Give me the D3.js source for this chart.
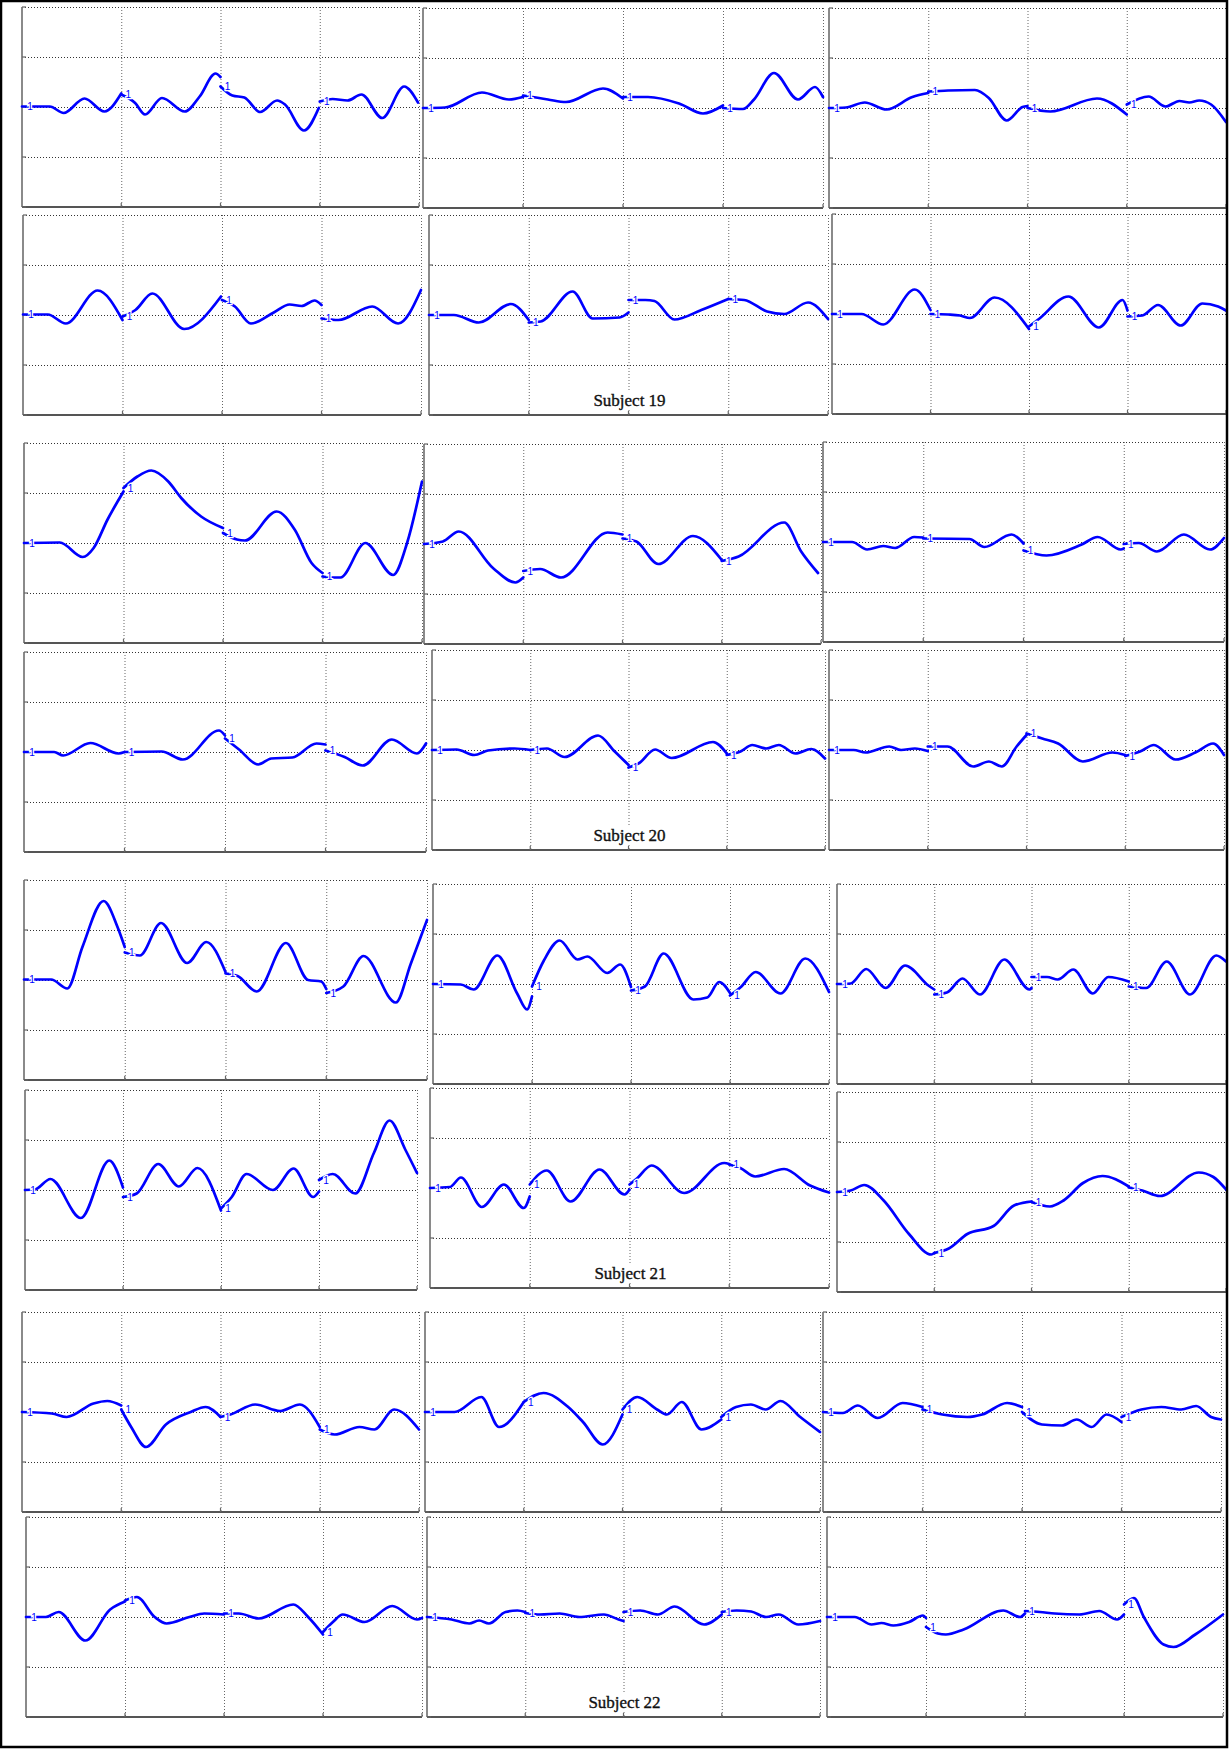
<!DOCTYPE html>
<html>
<head>
<meta charset="utf-8">
<script src="https://cdn.jsdelivr.net/npm/d3@7"></script>
<style>
  html, body { margin: 0; padding: 0; background: #fff; }
  svg { display: block; }
</style>
</head>
<body>
<svg id="chart" width="1229" height="1749"></svg>
<script>
// Each trace is split into four runs; each run is a list of [x, y] points,
// x in column units (0..4), y in grid units (-2..2).

// ---- Subject 19 ----
const s19_1 = [
  [[0,0.01],[0.28,0.01],[0.42,-0.12],[0.63,0.17],[0.83,-0.09],[1.0,0.27]],
  [[1.0,0.25],[1.14,0.08],[1.24,-0.15],[1.41,0.18],[1.64,-0.09],[1.79,0.21],[1.95,0.67],[2.0,0.6]],
  [[2.0,0.41],[2.12,0.23],[2.24,0.19],[2.40,-0.10],[2.57,0.13],[2.65,0.05],[2.84,-0.47],[2.99,-0.02]],
  [[3.0,0.11],[3.13,0.16],[3.28,0.13],[3.42,0.25],[3.63,-0.22],[3.85,0.41],[3.99,0.09]]
];
const s19_2 = [
  [[0,0],[0.22,0.01],[0.59,0.31],[0.86,0.17],[1.0,0.22]],
  [[1.0,0.25],[1.25,0.17],[1.43,0.12],[1.80,0.39],[2.0,0.19]],
  [[2.0,0.22],[2.25,0.22],[2.56,0.09],[2.8,-0.11],[3.0,0.05]],
  [[3.0,0],[3.2,-0.02],[3.31,0.17],[3.51,0.70],[3.75,0.17],[3.92,0.42],[4.0,0.22]]
];
const s19_3 = [
  [[0,0],[0.17,0.01],[0.36,0.11],[0.58,-0.03],[0.84,0.22],[1.0,0.30]],
  [[1.0,0.33],[1.2,0.35],[1.47,0.36],[1.61,0.2],[1.79,-0.25],[1.95,0.02],[2.0,0.04]],
  [[2.0,0],[2.23,-0.07],[2.70,0.19],[3.0,-0.13]],
  [[3.0,0.07],[3.22,0.23],[3.39,0.03],[3.53,0.14],[3.63,0.11],[3.73,0.15],[3.85,0.07],[4.0,-0.28]]
];
const s19_4 = [
  [[0,0.01],[0.25,0.01],[0.43,-0.17],[0.75,0.49],[1.0,-0.10]],
  [[1.0,-0.03],[1.13,0.1],[1.30,0.43],[1.62,-0.28],[1.99,0.37]],
  [[2.0,0.3],[2.13,0.17],[2.29,-0.17],[2.52,0.05],[2.68,0.21],[2.80,0.18],[2.93,0.29],[3.0,0.2]],
  [[3.0,-0.07],[3.17,-0.10],[3.51,0.17],[3.77,-0.17],[4.0,0.5]]
];
const s19_5 = [
  [[0,0],[0.25,0],[0.5,-0.15],[0.82,0.22],[1.0,-0.1]],
  [[1.0,-0.15],[1.12,-0.13],[1.44,0.47],[1.64,-0.07],[1.91,-0.05],[2.0,0.05]],
  [[2.0,0.3],[2.17,0.3],[2.26,0.28],[2.46,-0.09],[2.73,0.1],[3.0,0.32]],
  [[3.0,0.32],[3.16,0.3],[3.39,0.07],[3.56,0.02],[3.80,0.25],[4.0,-0.08]]
];
const s19_6 = [
  [[0,0],[0.3,0],[0.52,-0.21],[0.84,0.49],[1.0,0.08]],
  [[1.0,0.0],[1.18,-0.01],[1.3,-0.03],[1.4,-0.08],[1.65,0.33],[2.0,-0.3]],
  [[2.0,-0.25],[2.1,-0.1],[2.4,0.35],[2.71,-0.27],[2.95,0.28],[3.0,0.07]],
  [[3.0,-0.05],[3.15,-0.03],[3.31,0.18],[3.54,-0.23],[3.76,0.21],[3.92,0.15],[4.0,0.07]]
];

// ---- Subject 20 ----
const s20_1 = [
  [[0,0],[0.36,0.01],[0.59,-0.28],[0.7,-0.1],[0.84,0.47],[1.0,1.03]],
  [[1.0,1.1],[1.14,1.33],[1.28,1.45],[1.45,1.23],[1.58,0.9],[1.78,0.53],[2.0,0.3]],
  [[2.0,0.2],[2.14,0.07],[2.22,0.05],[2.54,0.63],[2.72,0.27],[2.89,-0.4],[3.0,-0.6]],
  [[3.0,-0.67],[3.1,-0.69],[3.18,-0.69],[3.43,0.0],[3.71,-0.64],[3.85,0.0],[4.0,1.23]]
];
const s20_2 = [
  [[0,0],[0.19,0.05],[0.35,0.25],[0.70,-0.49],[0.92,-0.77],[1.0,-0.67]],
  [[1.0,-0.54],[1.17,-0.5],[1.38,-0.67],[1.85,0.23],[2.0,0.19]],
  [[2.0,0.11],[2.14,0.05],[2.36,-0.4],[2.71,0.16],[3.0,-0.32]],
  [[3.0,-0.34],[3.17,-0.25],[3.63,0.43],[3.8,-0.15],[3.97,-0.58]]
];
const s20_3 = [
  [[0,0],[0.29,0],[0.44,-0.15],[0.6,-0.08],[0.72,-0.12],[0.91,0.1],[1.0,0.09]],
  [[1.0,0.07],[1.46,0.06],[1.61,-0.1],[1.88,0.15],[2.0,-0.03]],
  [[2.0,-0.17],[2.23,-0.27],[2.58,-0.05],[2.74,0.1],[2.97,-0.15],[3.0,-0.13]],
  [[3.0,-0.04],[3.15,-0.02],[3.33,-0.19],[3.6,0.15],[3.86,-0.15],[4.0,0.08]]
];
const s20_4 = [
  [[0,0],[0.3,0],[0.39,-0.07],[0.66,0.18],[0.94,-0.03],[1.0,0]],
  [[1.0,0],[1.37,0.01],[1.58,-0.15],[1.94,0.43],[2.0,0.33]],
  [[2.0,0.27],[2.14,0.05],[2.33,-0.25],[2.46,-0.13],[2.67,-0.11],[2.91,0.17],[3.0,0.15]],
  [[3.0,0.03],[3.19,-0.1],[3.37,-0.27],[3.66,0.25],[3.91,-0.03],[4.0,0.17]]
];
const s20_5 = [
  [[0,0],[0.25,0.01],[0.43,-0.1],[0.57,-0.01],[0.84,0.03],[1.0,0]],
  [[1.0,0.0],[1.17,0.03],[1.35,-0.14],[1.69,0.29],[1.86,-0.03],[2.0,-0.3]],
  [[2.0,-0.35],[2.11,-0.26],[2.27,0.01],[2.44,-0.16],[2.86,0.16],[3.0,-0.07]],
  [[3.0,-0.1],[3.14,-0.03],[3.26,0.1],[3.4,0.03],[3.53,0.1],[3.7,-0.07],[3.86,0.02],[4.0,-0.17]]
];
const s20_6 = [
  [[0,0],[0.25,0],[0.37,-0.05],[0.61,0.07],[0.73,0],[0.87,0.03],[1.0,-0.02]],
  [[1.0,0.07],[1.2,0.07],[1.46,-0.33],[1.62,-0.23],[1.75,-0.33],[1.9,0.07],[2.0,0.3]],
  [[2.0,0.33],[2.16,0.23],[2.32,0.13],[2.57,-0.23],[2.87,-0.05],[3.0,-0.1]],
  [[3.0,-0.12],[3.15,-0.03],[3.29,0.1],[3.51,-0.19],[3.71,-0.05],[3.89,0.13],[4.0,-0.1]]
];

// ---- Subject 21 ----
const s21_1 = [
  [[0,0.01],[0.27,0.01],[0.43,-0.17],[0.58,0.66],[0.79,1.58],[0.93,1.05],[1.0,0.66]],
  [[1.0,0.55],[1.15,0.49],[1.36,1.14],[1.62,0.34],[1.81,0.76],[2.0,0.16]],
  [[2.0,0.13],[2.12,0.08],[2.31,-0.23],[2.6,0.74],[2.82,0],[2.95,-0.03],[3.0,-0.18]],
  [[3.0,-0.26],[3.17,-0.13],[3.37,0.48],[3.69,-0.45],[3.84,0.33],[4.0,1.2]]
];
const s21_2 = [
  [[0,0],[0.28,-0.01],[0.41,-0.11],[0.65,0.57],[0.85,-0.19],[0.95,-0.51],[1.0,-0.25]],
  [[1.0,-0.05],[1.12,0.47],[1.28,0.87],[1.46,0.49],[1.56,0.55],[1.76,0.22],[1.89,0.39],[2.0,-0.06]],
  [[2.0,-0.13],[2.14,-0.05],[2.33,0.61],[2.63,-0.31],[2.77,-0.27],[2.89,0.04],[3.0,-0.18]],
  [[3.0,-0.23],[3.11,-0.06],[3.26,0.24],[3.51,-0.19],[3.76,0.51],[4.0,-0.16]]
];
const s21_3 = [
  [[0,0],[0.14,0.01],[0.3,0.3],[0.5,-0.08],[0.7,0.37],[0.94,-0.03],[1.0,-0.11]],
  [[1.0,-0.21],[1.13,-0.17],[1.29,0.11],[1.47,-0.21],[1.72,0.49],[1.98,-0.11],[2.0,-0.08]],
  [[2.0,0.14],[2.16,0.14],[2.27,0.09],[2.43,0.29],[2.63,-0.19],[2.79,0.14],[3.0,0.05]],
  [[3.0,-0.05],[3.18,-0.08],[3.39,0.45],[3.63,-0.21],[3.9,0.57],[4.0,0.45]]
];
const s21_4 = [
  [[0,0],[0.1,0.01],[0.26,0.22],[0.57,-0.56],[0.86,0.59],[1.0,0.05]],
  [[1.0,-0.14],[1.14,-0.07],[1.36,0.52],[1.57,0.07],[1.76,0.44],[2.0,-0.41]],
  [[2.0,-0.37],[2.11,-0.14],[2.26,0.32],[2.53,0],[2.74,0.43],[2.94,-0.14],[3.0,-0.03]],
  [[3.0,0.2],[3.14,0.32],[3.37,-0.07],[3.56,0.74],[3.72,1.39],[3.88,0.81],[4.0,0.34]]
];
const s21_5 = [
  [[0,0],[0.2,0.02],[0.31,0.21],[0.52,-0.38],[0.74,0.07],[0.94,-0.4],[1.0,-0.17]],
  [[1.0,0.07],[1.17,0.35],[1.41,-0.27],[1.70,0.37],[1.95,-0.13],[2.0,-0.03]],
  [[2.0,0.07],[2.08,0.2],[2.22,0.45],[2.55,-0.1],[2.95,0.5],[3.0,0.48]],
  [[3.0,0.47],[3.11,0.4],[3.26,0.23],[3.55,0.38],[3.81,0.05],[4.0,-0.09]]
];
const s21_6 = [
  [[0,0],[0.14,0.03],[0.28,0.14],[0.48,-0.17],[0.74,-0.84],[0.97,-1.25],[1.0,-1.22]],
  [[1.0,-1.22],[1.15,-1.13],[1.34,-0.84],[1.61,-0.68],[1.82,-0.27],[2.0,-0.19]],
  [[2.0,-0.2],[2.19,-0.29],[2.33,-0.17],[2.53,0.18],[2.73,0.32],[3.0,0.11]],
  [[3.0,0.09],[3.14,0.03],[3.32,-0.08],[3.72,0.39],[3.87,0.3],[4.0,0.05]]
];

// ---- Subject 22 ----
const s22_1 = [
  [[0,0],[0.3,-0.03],[0.45,-0.1],[0.72,0.17],[0.86,0.22],[1.0,0.13]],
  [[1.0,0.05],[1.1,-0.3],[1.25,-0.7],[1.45,-0.25],[1.7,0.0],[1.85,0.1],[2.0,-0.1]],
  [[2.0,-0.1],[2.1,-0.05],[2.35,0.15],[2.6,0.02],[2.8,0.15],[3.0,-0.3]],
  [[3.0,-0.35],[3.15,-0.45],[3.4,-0.3],[3.55,-0.35],[3.75,0.05],[4.0,-0.35]]
];
const s22_2 = [
  [[0,0],[0.3,0.0],[0.57,0.3],[0.75,-0.3],[1.0,0.2]],
  [[1.0,0.2],[1.2,0.38],[1.45,0.1],[1.6,-0.2],[1.8,-0.65],[2.0,-0.05]],
  [[2.0,0.05],[2.15,0.3],[2.35,0.05],[2.45,-0.05],[2.6,0.2],[2.8,-0.35],[3.0,-0.15]],
  [[3.0,-0.1],[3.15,0.1],[3.3,0.15],[3.45,0.05],[3.6,0.22],[3.8,-0.1],[4.0,-0.4]]
];
const s22_3 = [
  [[0,0],[0.2,-0.02],[0.35,0.13],[0.55,-0.12],[0.8,0.18],[1.0,0.1]],
  [[1.0,0.05],[1.2,-0.05],[1.45,-0.1],[1.6,-0.05],[1.85,0.18],[2.0,0.1]],
  [[2.0,0.0],[2.2,-0.25],[2.4,-0.27],[2.55,-0.15],[2.7,-0.3],[2.85,-0.05],[3.0,-0.2]],
  [[3.0,-0.1],[3.2,0.05],[3.4,0.1],[3.6,0.05],[3.75,0.12],[3.9,-0.1],[4.0,-0.15]]
];
const s22_4 = [
  [[0,0],[0.2,0.0],[0.33,0.1],[0.6,-0.47],[0.85,0.15],[1.0,0.31]],
  [[1.0,0.33],[1.12,0.4],[1.3,0.0],[1.42,-0.13],[1.65,0.0],[1.8,0.07],[2.0,0.05]],
  [[2.0,0.07],[2.15,0.07],[2.35,-0.03],[2.7,0.25],[2.85,0.0],[3.0,-0.35]],
  [[3.0,-0.3],[3.1,-0.1],[3.2,0.05],[3.42,-0.1],[3.7,0.22],[3.95,-0.05],[4.0,-0.02]]
];
const s22_5 = [
  [[0,0],[0.25,-0.05],[0.43,-0.13],[0.53,-0.07],[0.63,-0.13],[0.8,0.1],[0.92,0.13],[1.0,0.1]],
  [[1.0,0.08],[1.15,0.05],[1.35,0.07],[1.55,0.0],[1.8,0.05],[1.95,-0.05],[2.0,-0.08]],
  [[2.0,0.1],[2.17,0.13],[2.35,0.05],[2.52,0.21],[2.82,-0.15],[3.0,0.05]],
  [[3.0,0.1],[3.15,0.13],[3.3,0.11],[3.45,0.0],[3.58,0.05],[3.78,-0.15],[4.0,-0.08]]
];
const s22_6 = [
  [[0,0],[0.28,0.0],[0.45,-0.15],[0.55,-0.12],[0.67,-0.17],[0.83,-0.1],[0.97,0.03],[1.0,-0.02]],
  [[1.0,-0.2],[1.12,-0.33],[1.2,-0.35],[1.38,-0.25],[1.78,0.13],[1.95,0.0],[2.0,0.07]],
  [[2.0,0.12],[2.15,0.1],[2.3,0.07],[2.55,0.05],[2.75,0.12],[2.93,-0.05],[3.0,0.05]],
  [[3.0,0.25],[3.1,0.38],[3.2,0.0],[3.4,-0.55],[3.5,-0.6],[3.72,-0.35],[4.0,0.05]]
];

const subjectNames = ["Subject 19", "Subject 20", "Subject 21", "Subject 22"];
const subjectTraces = [
  [s19_1, s19_2, s19_3, s19_4, s19_5, s19_6],
  [s20_1, s20_2, s20_3, s20_4, s20_5, s20_6],
  [s21_1, s21_2, s21_3, s21_4, s21_5, s21_6],
  [s22_1, s22_2, s22_3, s22_4, s22_5, s22_6]
];

const xGrid = [1, 2, 3, 4];
const yGrid = [-1, 0, 1, 2];
const yTicks = [-2, -1, 0, 1, 2];

// Panel frames: [left, right, zero line y] for each of the eight rows of three.
const frames = [
  [[22,419,107],[423,823,108],[829,1226,108]],
  [[23,421,315],[429,828,315],[832,1226,314]],
  [[24,422,543],[424,821,544],[823,1224,542]],
  [[24,426,752],[432,825,750],[829,1224,750]],
  [[24,427,980],[433,829,984],[837,1226,984]],
  [[25,417,1190],[430,829,1188],[837,1226,1192]],
  [[22,419,1412],[425,820,1412],[823,1221,1412]],
  [[26,422,1617],[427,820,1617],[827,1223,1617]]
];
const HALF = 100;

const svg = d3.select("#chart");
svg.append("rect").attr("width", 1229).attr("height", 1749).attr("fill", "#fff");

const line = d3.line().curve(d3.curveMonotoneX);

function drawPanel(frame, runs) {
  const [x0, x1, zero] = frame;
  const x = d3.scaleLinear().domain([0, 4]).range([x0, x1]);
  const y = d3.scaleLinear().domain([-2, 2]).range([zero + HALF, zero - HALF]);
  const g = svg.append("g");

  // dotted grid
  g.selectAll(".hg").data(yGrid).join("line")
    .attr("x1", x(0)).attr("x2", x(4))
    .attr("y1", d => y(d) + 0.5).attr("y2", d => y(d) + 0.5)
    .attr("stroke", "#333").attr("stroke-width", 1).attr("stroke-dasharray", "1,2");
  g.selectAll(".vg").data(xGrid).join("line")
    .attr("x1", d => x(d) + 0.5).attr("x2", d => x(d) + 0.5)
    .attr("y1", y(2)).attr("y2", y(-2))
    .attr("stroke", "#666").attr("stroke-width", 1).attr("stroke-dasharray", "1,2");

  // solid axes with short inward ticks
  g.append("line").attr("x1", x(0)).attr("x2", x(0)).attr("y1", y(2)).attr("y2", y(-2))
    .attr("stroke", "#8a8a8a").attr("stroke-width", 2);
  g.append("line").attr("x1", x(0)).attr("x2", x(4)).attr("y1", y(-2)).attr("y2", y(-2))
    .attr("stroke", "#555").attr("stroke-width", 2);
  g.selectAll(".yt").data(yTicks).join("line")
    .attr("x1", x(0)).attr("x2", x(0) + 4)
    .attr("y1", d => y(d)).attr("y2", d => y(d))
    .attr("stroke", "#666").attr("stroke-width", 1.2);
  g.selectAll(".xt").data(xGrid).join("line")
    .attr("x1", d => x(d)).attr("x2", d => x(d))
    .attr("y1", y(-2)).attr("y2", y(-2) - 4)
    .attr("stroke", "#666").attr("stroke-width", 1.2);

  line.x(d => x(d[0])).y(d => y(d[1]));
  g.selectAll(".run").data(runs).join("path")
    .attr("d", d => line(d))
    .attr("fill", "none").attr("stroke", "#0000ff")
    .attr("stroke-width", 2.7).attr("stroke-linejoin", "round").attr("stroke-linecap", "round");

  // run labels sit on the trace near each run's start
  g.selectAll(".lab").data(runs).join("text")
    .attr("x", (d, i) => x(d[0][0]) + (i === 0 ? 8 : 7))
    .attr("y", d => y(d[0][1]) + 3.5)
    .attr("text-anchor", "middle")
    .attr("font-family", "Liberation Sans, Arial, sans-serif")
    .attr("font-size", 10)
    .attr("fill", "#0000ff")
    .attr("stroke", "#fff").attr("stroke-width", 2.5)
    .attr("paint-order", "stroke")
    .text("1");
}

subjectTraces.forEach((traces, s) => {
  traces.forEach((runs, p) => {
    const row = s * 2 + Math.floor(p / 3);
    const col = p % 3;
    drawPanel(frames[row][col], runs);
  });
  // subject caption inside the lower middle panel
  const f = frames[s * 2 + 1][1];
  const cx = (f[0] + f[1]) / 2 + 1;
  const by = f[2] + 91;
  const t = svg.append("text")
    .attr("x", cx).attr("y", by)
    .attr("text-anchor", "middle")
    .attr("font-family", "Liberation Serif, Times New Roman, serif")
    .attr("font-size", 17)
    .attr("fill", "#111")
    .attr("stroke", "#111").attr("stroke-width", 0.35)
    .text(subjectNames[s]);
  const bb = t.node().getBBox();
  svg.insert("rect", () => t.node())
    .attr("x", bb.x - 2).attr("y", bb.y).attr("width", bb.width + 4).attr("height", bb.height)
    .attr("fill", "#fff");
});

// page frame
svg.append("rect").attr("x", 1).attr("y", 1).attr("width", 1226).attr("height", 1746)
  .attr("fill", "none").attr("stroke", "#000").attr("stroke-width", 2.5);
</script>
</body>
</html>
